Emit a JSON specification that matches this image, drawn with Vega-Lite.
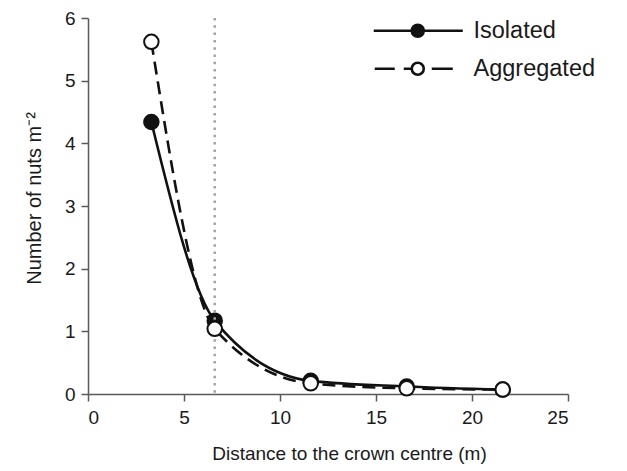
{
  "$schema": "https://vega.github.io/schema/vega-lite/v6.json",
  "autosize": "none",
  "width": 480,
  "height": 376,
  "padding": {"left": 88, "top": 18, "right": 59, "bottom": 77},
  "background": "white",
  "config": {
    "view": {"stroke": null},
    "font": "Liberation Sans",
    "axis": {
      "grid": false,
      "domainColor": "#5a5a5a",
      "domainWidth": 1.5,
      "tickColor": "#5a5a5a",
      "tickWidth": 1.5,
      "tickSize": 7,
      "labelFont": "Liberation Sans",
      "labelFontSize": 19,
      "labelColor": "#1a1a1a",
      "titleFont": "Liberation Sans",
      "titleFontSize": 19,
      "titleFontWeight": "normal",
      "titleColor": "#1a1a1a"
    },
    "legend": {
      "labelFont": "Liberation Sans",
      "labelFontSize": 23.5,
      "labelColor": "#1a1a1a"
    }
  },
  "datasets": {
    "nuts": [
      {"distance": 3.3, "nuts": 4.34, "series": "Isolated"},
      {"distance": 6.6, "nuts": 1.17, "series": "Isolated"},
      {"distance": 11.6, "nuts": 0.21, "series": "Isolated"},
      {"distance": 16.6, "nuts": 0.12, "series": "Isolated"},
      {"distance": 21.6, "nuts": 0.07, "series": "Isolated"},
      {"distance": 3.3, "nuts": 5.62, "series": "Aggregated"},
      {"distance": 6.6, "nuts": 1.04, "series": "Aggregated"},
      {"distance": 11.6, "nuts": 0.17, "series": "Aggregated"},
      {"distance": 16.6, "nuts": 0.09, "series": "Aggregated"},
      {"distance": 21.6, "nuts": 0.07, "series": "Aggregated"}
    ],
    "crown": [{"distance": 6.6}]
  },
  "data": {"name": "nuts"},
  "encoding": {
    "x": {
      "field": "distance",
      "type": "quantitative",
      "scale": {"domain": [0, 25], "nice": false},
      "axis": {"values": [0, 5, 10, 15, 20, 25], "title": "Distance to the crown centre (m)", "labelPadding": 7, "titlePadding": 17, "titleX": 261, "titleAnchor": "middle"}
    },
    "y": {
      "field": "nuts",
      "type": "quantitative",
      "scale": {"domain": [0, 6], "nice": false},
      "axis": {"values": [0, 1, 2, 3, 4, 5, 6], "title": "Number of nuts m⁻²", "titleFontSize": 20, "labelPadding": 6, "titlePadding": 20, "titleY": 180}
    }
  },
  "layer": [
    {
      "transform": [{"filter": "datum.series === 'Isolated'"}],
      "mark": {"type": "line", "interpolate": "monotone", "color": "#111111", "strokeWidth": 2.6}
    },
    {
      "transform": [{"filter": "datum.series === 'Aggregated'"}],
      "mark": {"type": "line", "interpolate": "monotone", "color": "#111111", "strokeWidth": 2.6, "strokeDash": [13, 7]}
    },
    {
      "transform": [{"filter": "datum.series === 'Isolated'"}],
      "mark": {"type": "point", "shape": "circle", "filled": true, "fill": "#111111", "stroke": "#111111", "strokeWidth": 2, "size": 210, "opacity": 1}
    },
    {
      "data": {"name": "crown"},
      "mark": {"type": "rule", "color": "#a3a3a3", "strokeWidth": 2.5, "strokeDash": [2.5, 4.8]},
      "encoding": {"x": {"field": "distance", "type": "quantitative"}, "y": null}
    },
    {
      "transform": [{"filter": "datum.series === 'Aggregated'"}],
      "mark": {"type": "point", "shape": "circle", "filled": false, "fill": "white", "stroke": "#111111", "strokeWidth": 2, "size": 210, "opacity": 1}
    },
    {
      "transform": [{"filter": "datum.series === 'legend only'"}],
      "mark": {"type": "point", "filled": false, "size": 4, "strokeWidth": 2.6, "opacity": 1},
      "encoding": {
        "shape": {
          "field": "series",
          "type": "nominal",
          "scale": {
            "domain": ["Isolated", "Aggregated"],
            "range": [
              "M-44,0H-6M6,0H45M-6,0A6,6 0 1,1 6,0A6,6 0 1,1 -6,0ZM-4,0A4,4 0 1,1 4,0A4,4 0 1,1 -4,0ZM-2,0A2,2 0 1,1 2,0A2,2 0 1,1 -2,0ZM-1,0H1",
              "M-43,0H-23M-14,0H-6M-6,0A6,6 0 1,1 6,0A6,6 0 1,1 -6,0ZM14,0H35"
            ]
          },
          "legend": {
            "title": null,
            "orient": "none",
            "legendX": 318,
            "legendY": 1,
            "padding": 0,
            "symbolSize": 4,
            "symbolOpacity": 1,
            "symbolStrokeWidth": 2.6,
            "labelOffset": 44,
            "rowPadding": 13,
            "labelLimit": 300
          }
        },
        "stroke": {
          "field": "series",
          "type": "nominal",
          "scale": {"domain": ["Isolated", "Aggregated"], "range": ["#111111", "#111111"]},
          "legend": {
            "title": null,
            "orient": "none",
            "legendX": 318,
            "legendY": 1,
            "padding": 0,
            "symbolSize": 4,
            "symbolOpacity": 1,
            "symbolStrokeWidth": 2.6,
            "labelOffset": 44,
            "rowPadding": 13,
            "labelLimit": 300
          }
        }
      }
    }
  ]
}
